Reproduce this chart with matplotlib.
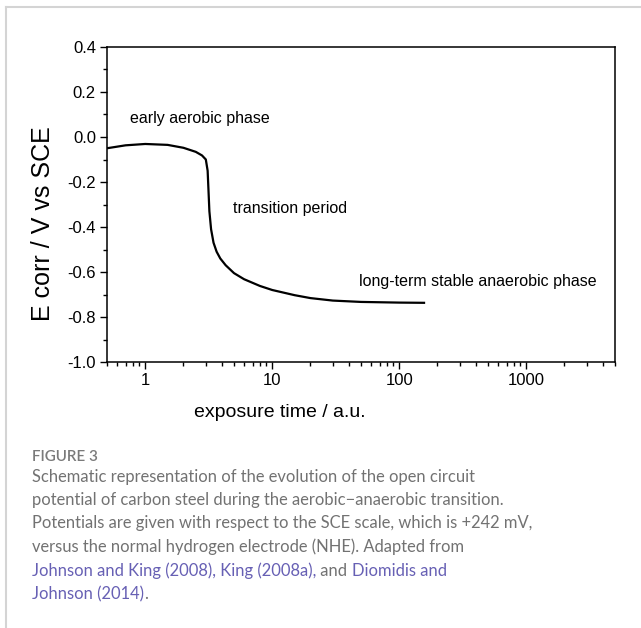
import matplotlib
matplotlib.use("Agg")
import matplotlib.pyplot as plt
import matplotlib.ticker as mticker
from matplotlib.lines import Line2D

time_au = [0.5, 0.7, 1.0, 1.5, 2.0, 2.5, 2.8, 3.0, 3.1, 3.15, 3.2, 3.3,
           3.45, 3.65, 3.9, 4.3, 5.0, 6.0, 8.0, 10, 15, 20, 30, 50, 100, 160]
e_corr = [-0.050, -0.037, -0.031, -0.035, -0.048, -0.066, -0.082, -0.100,
          -0.15, -0.24, -0.33, -0.41, -0.47, -0.51, -0.54, -0.57, -0.605,
          -0.632, -0.662, -0.680, -0.703, -0.716, -0.727, -0.733, -0.736,
          -0.737]

phase_labels = ["early aerobic phase", "transition period",
                "long-term stable anaerobic phase"]
phase_pos = [(0.76, 0.08), (4.9, -0.32), (48, -0.644)]

y_ticks = [0.4, 0.2, 0.0, -0.2, -0.4, -0.6, -0.8, -1.0]

caption_title = "FIGURE 3"
caption_lines = [
    [("Schematic representation of the evolution of the open circuit", "t")],
    [("potential of carbon steel during the aerobic\u2212anaerobic transition.", "t")],
    [("Potentials are given with respect to the SCE scale, which is +242 mV,", "t")],
    [("versus the normal hydrogen electrode (NHE). Adapted from", "t")],
    [("Johnson and King (2008), King (2008a),", "l"), (" and ", "t"),
     ("Diomidis and", "l")],
    [("Johnson (2014)", "l"), (".", "t")],
]

# ── Style ────────────────────────────────────────────────────────────────────
W, H = 641, 628
FONT = ["Liberation Sans", "DejaVu Sans"]
CAP_FONT = ["Lato", "DejaVu Sans"]
CAP_SIZE = 11.9
TXT = "#727272"
LINK = "#6760b4"
FRAME = "#d4d4d4"

fig = plt.figure(figsize=(W / 100, H / 100), dpi=100)
fig.patch.set_facecolor("white")

# light frame round the figure block (top + left only)
fig.add_artist(Line2D([6 / W, 1], [1 - 7 / H, 1 - 7 / H], color=FRAME, lw=1.5))
fig.add_artist(Line2D([6 / W, 6 / W], [0, 1 - 7 / H], color=FRAME, lw=1.5))

ax = fig.add_axes([107 / W, 1 - 362 / H, (615 - 107) / W, (362 - 47) / H])
ax.plot(time_au, e_corr, color="black", lw=1.6, solid_capstyle="butt")

ax.set_xscale("log")
ax.set_xlim(0.5, 5000)
ax.set_ylim(-1.0, 0.4)
ax.set_yticks(y_ticks)
ax.yaxis.set_minor_locator(mticker.MultipleLocator(0.1))
ax.yaxis.set_major_formatter(mticker.FormatStrFormatter("%.1f"))
ax.xaxis.set_major_locator(mticker.LogLocator(base=10, numticks=10))
ax.xaxis.set_major_formatter(mticker.FuncFormatter(lambda v, _: f"{v:g}"))
ax.xaxis.set_minor_locator(mticker.LogLocator(base=10, subs=range(2, 10),
                                              numticks=20))
ax.xaxis.set_minor_formatter(mticker.NullFormatter())

for s in ax.spines.values():
    s.set_linewidth(1.1)
ax.tick_params(which="both", direction="out", top=False, right=False,
               width=1.0, color="black")
ax.tick_params(which="major", length=5, labelsize=12, pad=3)
ax.tick_params(which="minor", length=3)
for lab in ax.get_xticklabels() + ax.get_yticklabels():
    lab.set_family(FONT)

# axis titles sit off-centre in the original
ax.set_ylabel("E corr / V vs SCE", fontsize=18, family=FONT)
ax.yaxis.set_label_coords(-0.102, 0.44)
ax.set_xlabel("exposure time / a.u.", fontsize=14, family=FONT)
ax.xaxis.set_label_coords(0.34, -0.133)

for txt, (px, py) in zip(phase_labels, phase_pos):
    ax.text(px, py, txt, fontsize=11.5, family=FONT, ha="left", va="center")

# ── Caption ──────────────────────────────────────────────────────────────────
X0 = 32 / W
fig.text(X0, 1 - 457 / H, caption_title, fontsize=11, family=CAP_FONT,
         fontweight="semibold", color="#7a7a7a", va="center", ha="left")

line_y = [477, 500, 523, 547, 571, 594]
for segs, py in zip(caption_lines, line_y):
    prev = None
    for text, kind in segs:
        col = LINK if kind == "l" else TXT
        if prev is None:
            prev = fig.text(X0, 1 - py / H, text, fontsize=CAP_SIZE,
                            family=CAP_FONT, color=col, va="center",
                            ha="left")
        else:
            # chain the next run of text onto the end of the previous one
            prev = ax.annotate(text, xy=(1, 0.5), xycoords=prev,
                               fontsize=CAP_SIZE, family=CAP_FONT, color=col,
                               va="center", ha="left", annotation_clip=False)

fig.savefig("out.png", dpi=100)
